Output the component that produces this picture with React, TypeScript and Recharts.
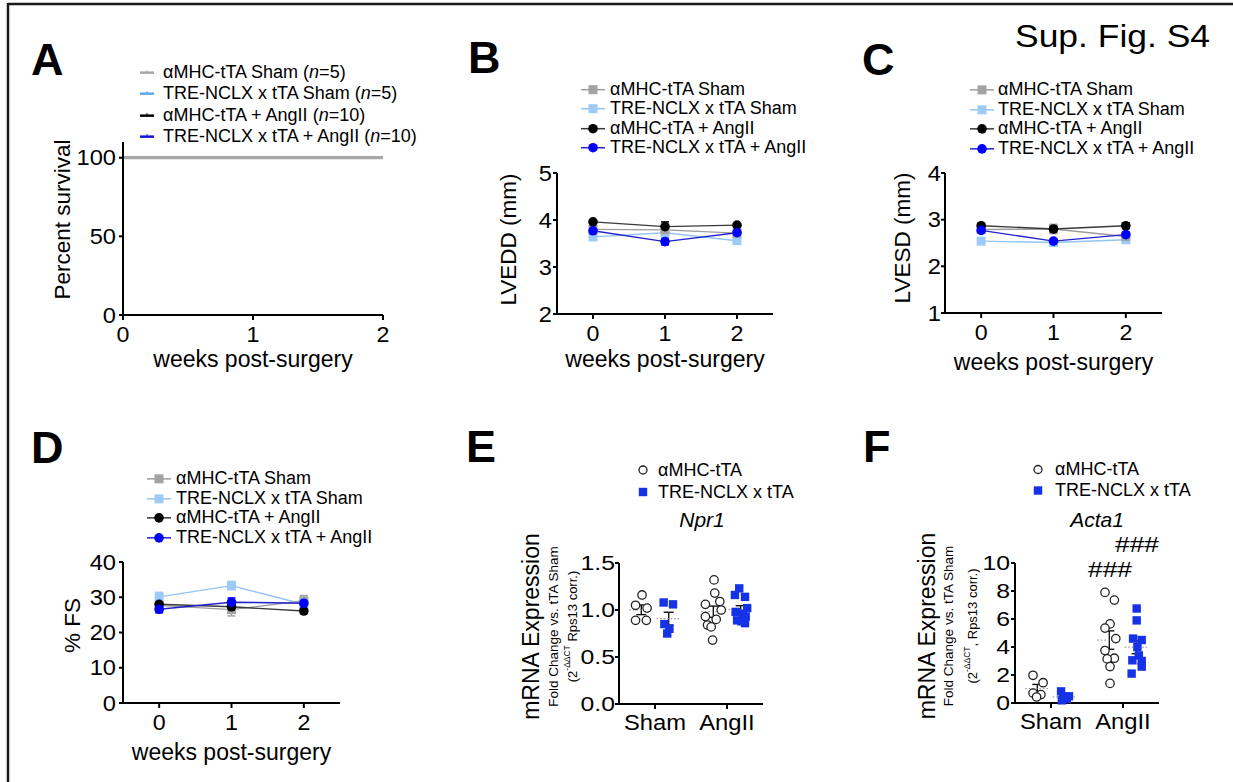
import React from "react";
import {
  LineChart,
  Line,
  ScatterChart,
  Scatter,
  XAxis,
  YAxis,
  ErrorBar,
  Legend,
  Label,
} from "recharts";

const FONT = "'Liberation Sans', Arial, Helvetica, sans-serif";

// panels A-D: four mouse groups followed over time
const weeks = [0, 1, 2];
const groupNames = ["αMHC-tTA Sham", "TRE-NCLX x tTA Sham", "αMHC-tTA + AngII", "TRE-NCLX x tTA + AngII"];
const groupN = [5, 5, 10, 10];

// A: percent survival
const survival = [
  [100, 100, 100],
  [100, 100, 100],
  [100, 100, 100],
  [100, 100, 100],
];

// B: LVEDD (mm), mean and SEM
const lveddMean = [
  [3.8, 3.79, 3.72],
  [3.64, 3.73, 3.56],
  [3.96, 3.86, 3.89],
  [3.77, 3.54, 3.73],
];
const lveddSem = [
  [0.07, 0.08, 0.06],
  [0.04, 0.03, 0.04],
  [0.03, 0.1, 0.03],
  [0.04, 0.07, 0.04],
];

// C: LVESD (mm)
const lvesdMean = [
  [2.79, 2.8, 2.64],
  [2.54, 2.51, 2.57],
  [2.87, 2.8, 2.87],
  [2.77, 2.54, 2.68],
];
const lvesdSem = [
  [0.05, 0.1, 0.06],
  [0.04, 0.04, 0.03],
  [0.03, 0.05, 0.06],
  [0.03, 0.04, 0.05],
];

// D: % FS
const fsMean = [
  [27.7, 26.5, 29.0],
  [30.1, 33.3, 28.0],
  [28.0, 27.3, 26.1],
  [26.6, 28.6, 28.3],
];
const fsSem = [
  [1.0, 1.8, 1.5],
  [1.3, 1.2, 1.0],
  [0.8, 0.8, 0.7],
  [1.0, 1.2, 0.9],
];

// E/F: qPCR, one row per condition (Sham, AngII)
const conditions = ["Sham", "AngII"];
const npr1Wt = [
  [1.16, 1.05, 1.02, 0.89, 0.89],
  [1.32, 1.18, 1.09, 1.06, 1.0, 0.93, 0.9, 0.84, 0.82, 0.68],
];
const npr1WtJitter = [
  [-0.18, -0.27, -0.11, -0.27, -0.12],
  [-0.18, -0.17, -0.1, -0.3, -0.08, -0.3, -0.15, -0.27, -0.22, -0.2],
];
const npr1Tg = [
  [1.08, 1.06, 0.85, 0.8, 0.75],
  [1.23, 1.16, 1.14, 1.02, 0.98, 0.96, 0.93, 0.89, 0.88, 0.86],
];
const npr1TgJitter = [
  [0.12, 0.25, 0.13, 0.2, 0.17],
  [0.17, 0.11, 0.25, 0.28, 0.12, 0.22, 0.26, 0.14, 0.2, 0.25],
];
const acta1Wt = [
  [1.98, 1.45, 0.71, 0.6, 0.43],
  [7.9, 7.35, 5.65, 5.35, 4.6, 3.75, 3.2, 3.15, 2.6, 1.4],
];
const acta1WtJitter = [
  [-0.25, -0.11, -0.25, -0.14, -0.2],
  [-0.25, -0.12, -0.18, -0.25, -0.1, -0.25, -0.12, -0.22, -0.18, -0.18],
];
const acta1Tg = [
  [0.83, 0.48, 0.38, 0.29, 0.19],
  [6.75, 5.9, 4.6, 4.5, 4.0, 3.4, 3.05, 3.0, 2.6, 2.1],
];
const acta1TgJitter = [
  [0.14, 0.25, 0.17, 0.22, 0.15],
  [0.19, 0.19, 0.14, 0.26, 0.2, 0.22, 0.13, 0.26, 0.26, 0.12],
];

const markerColors = ["#a3a3a3", "#9ecbf6", "#000000", "#0000ff"];
const lineColors = ["#9c9c9c", "#94c4f2", "#3a3a3a", "#2222cc"];
const survivalColors = ["#a8a8a8", "#5aa8ee", "#000000", "#1212d8"];
const TG_BLUE = "#1632e6";

type Box = { left: number; top: number; width: number; height: number };
type Plot = { left: number; top: number; right: number; bottom: number };
type TitleLine = { text: React.ReactNode; dx: number; size: number };
type KeyAt = { left: number; top: number; rowH: number; gap: number };

const layout = (box: Box, plot: Plot, xAxisH: number) => ({
  margin: {
    top: plot.top - box.top,
    left: 0,
    right: box.left + box.width - plot.right,
    bottom: box.top + box.height - plot.bottom - xAxisH,
  },
  yAxisW: plot.left - box.left,
});

// tick text, slightly widened like the original artwork
const wideTick = (fmt: (v: number) => string, size: number, sx: number, side: "x" | "y") => (t: any) => {
  const dy = side === "x" ? size * 0.71 : size * 0.355;
  return (
    <g transform={`translate(${t.x},${t.y}) scale(${sx},1)`}>
      <text x={0} y={0} dy={dy} textAnchor={side === "x" ? "middle" : "end"} fontSize={size} fontFamily={FONT} fill="#000">
        {fmt(t.payload.value)}
      </text>
    </g>
  );
};

const sideTitle = (lines: TitleLine[], shift: number) => (p: any) => {
  const vb = p.viewBox ?? { x: 0, y: 0, height: 0 };
  const cy = vb.y + vb.height / 2 + shift;
  return (
    <g>
      {lines.map((l, i) => {
        const x = vb.x + l.dx;
        return (
          <text key={i} x={x} y={cy} transform={`rotate(-90 ${x} ${cy})`} textAnchor="middle"
            dominantBaseline="central" fontFamily={FONT} fontSize={l.size} fill="#000">
            {l.text}
          </text>
        );
      })}
    </g>
  );
};

const axisLine = { stroke: "#000", strokeWidth: 2 };

type KeyRow = { label: React.ReactNode; symbol: (w: number, h: number) => React.ReactNode };

function Key({ rows, rowH, symW, gap }: { rows: KeyRow[]; rowH: number; symW: number; gap: number }) {
  return (
    <div style={{ fontFamily: FONT, fontSize: 18, color: "#000", whiteSpace: "nowrap" }}>
      {rows.map((r, i) => (
        <div key={i} style={{ display: "flex", alignItems: "center", height: rowH }}>
          <svg width={symW} height={rowH} style={{ flex: "none" }}>{r.symbol(symW, rowH)}</svg>
          <span style={{ marginLeft: gap, lineHeight: `${rowH}px` }}>{r.label}</span>
        </div>
      ))}
    </div>
  );
}

const markerSym = (g: number) => (w: number, h: number) => (
  <g>
    <line x1={0} x2={w} y1={h / 2} y2={h / 2} stroke={lineColors[g]} strokeWidth={1.5} />
    {g < 2 ? (
      <rect x={w / 2 - 4.5} y={h / 2 - 4.5} width={9} height={9} fill={markerColors[g]} />
    ) : (
      <circle cx={w / 2} cy={h / 2} r={4.8} fill={markerColors[g]} />
    )}
  </g>
);

const survivalSym = (g: number) => (w: number, h: number) => (
  <g>
    <line x1={w / 2 - 7} x2={w / 2 + 7} y1={h / 2} y2={h / 2} stroke={survivalColors[g]} strokeWidth={2.5} />
    <line x1={w / 2} x2={w / 2} y1={h / 2 - 2.5} y2={h / 2} stroke={survivalColors[g]} strokeWidth={1} />
  </g>
);

type TrendProps = {
  box: Box;
  plot: Plot;
  xTitleBase: number;
  means: number[][];
  sems?: number[][];
  xDomain: [number, number];
  yDomain: [number, number];
  yTicks: number[];
  yTickMargin: number;
  title: string;
  titleDx: number;
  titleShift: number;
  survivalStyle?: boolean;
  order: number[];
  keyAt: KeyAt;
};

function TrendPanel(p: TrendProps) {
  const xAxisH = p.xTitleBase - p.plot.bottom;
  const { margin, yAxisW } = layout(p.box, p.plot, xAxisH);
  const rows = weeks.map((w, i) => {
    const row: Record<string, number> = { week: w };
    p.means.forEach((m, g) => {
      row[`g${g}`] = m[i];
      if (p.sems) row[`e${g}`] = p.sems[g][i];
    });
    return row;
  });
  const keyRows: KeyRow[] = groupNames.map((name, g) => ({
    label: p.survivalStyle ? (
      <>
        {name} (<i>n</i>={groupN[g]})
      </>
    ) : (
      name
    ),
    symbol: p.survivalStyle ? survivalSym(g) : markerSym(g),
  }));

  return (
    <div style={{ position: "absolute", left: p.box.left, top: p.box.top }}>
      <LineChart width={p.box.width} height={p.box.height} data={rows} margin={margin}>
        <XAxis
          type="number"
          dataKey="week"
          domain={p.xDomain}
          ticks={weeks}
          interval={0}
          height={xAxisH}
          axisLine={axisLine}
          tickLine={axisLine}
          tickSize={5}
          tickMargin={7}
          tick={wideTick(String, 21.5, 1.08, "x")}
        >
          <Label value="weeks post-surgery" position="insideBottom" offset={0} fontSize={23} fill="#000" fontFamily={FONT} />
        </XAxis>
        <YAxis
          type="number"
          domain={p.yDomain}
          ticks={p.yTicks}
          interval={0}
          width={yAxisW}
          axisLine={axisLine}
          tickLine={axisLine}
          tickSize={4}
          tickMargin={p.yTickMargin}
          tick={wideTick(String, 21.5, 1.1, "y")}
        >
          <Label content={sideTitle([{ text: p.title, dx: p.titleDx, size: 22.5 }], p.titleShift)} />
        </YAxis>
        <Legend
          layout="vertical"
          align="center"
          verticalAlign="middle"
          wrapperStyle={{ left: p.keyAt.left, top: p.keyAt.top, width: 330 }}
          content={() => <Key rows={keyRows} rowH={p.keyAt.rowH} symW={24} gap={p.keyAt.gap} />}
        />
        {p.order.map((g) =>
          p.survivalStyle ? (
            <Line
              key={g}
              dataKey={`g${g}`}
              type="stepAfter"
              stroke={survivalColors[g]}
              strokeWidth={g === 0 ? 3 : 2}
              dot={false}
              isAnimationActive={false}
            />
          ) : (
            <Line
              key={g}
              dataKey={`g${g}`}
              type="linear"
              stroke={lineColors[g]}
              strokeWidth={1.4}
              isAnimationActive={false}
              dot={(d: any) =>
                g < 2 ? (
                  <rect key={`d${g}-${d.index}`} x={d.cx - 4.5} y={d.cy - 4.5} width={9} height={9} fill={markerColors[g]} />
                ) : (
                  <circle key={`d${g}-${d.index}`} cx={d.cx} cy={d.cy} r={4.8} fill={markerColors[g]} />
                )
              }
            >
              <ErrorBar dataKey={`e${g}`} width={4} stroke={markerColors[g]} strokeWidth={1.5} isAnimationActive={false} />
            </Line>
          )
        )}
      </LineChart>
    </div>
  );
}

const toPoints = (vals: number[][], jitter: number[][]) =>
  vals.flatMap((v, c) => v.map((y, k) => ({ x: c + jitter[c][k], y })));

const summarize = (vals: number[][], side: number) =>
  vals.map((v, c) => {
    const m = v.reduce((a, b) => a + b, 0) / v.length;
    const sd = Math.sqrt(v.reduce((a, b) => a + (b - m) * (b - m), 0) / (v.length - 1));
    return { x: c + side, y: m, sem: sd / Math.sqrt(v.length) };
  });

type DotProps = {
  box: Box;
  plot: Plot;
  wt: number[][];
  wtJitter: number[][];
  tg: number[][];
  tgJitter: number[][];
  yDomain: [number, number];
  yTicks: number[];
  yFmt: (v: number) => string;
  yTickMargin: number;
  titles: TitleLine[];
  titleShift: number;
  keyAt: KeyAt;
};

function DotPanel(p: DotProps) {
  const xAxisH = 40;
  const { margin, yAxisW } = layout(p.box, p.plot, xAxisH);
  const wtPts = toPoints(p.wt, p.wtJitter);
  const tgPts = toPoints(p.tg, p.tgJitter);
  const summary = [...summarize(p.wt, -0.19), ...summarize(p.tg, 0.19)];
  const keyRows: KeyRow[] = [
    {
      label: "αMHC-tTA",
      symbol: (w, h) => <circle cx={w / 2} cy={h / 2} r={4} fill="#fff" stroke="#222" strokeWidth={1.3} />,
    },
    {
      label: "TRE-NCLX x tTA",
      symbol: (w, h) => <rect x={w / 2 - 4.2} y={h / 2 - 4.2} width={8.4} height={8.4} fill={TG_BLUE} />,
    },
  ];

  return (
    <div style={{ position: "absolute", left: p.box.left, top: p.box.top }}>
      <ScatterChart width={p.box.width} height={p.box.height} margin={margin}>
        <XAxis
          type="number"
          dataKey="x"
          domain={[-0.5, 1.5]}
          ticks={[0, 1]}
          interval={0}
          height={xAxisH}
          axisLine={axisLine}
          tickLine={axisLine}
          tickSize={5}
          tickMargin={5}
          tick={wideTick((v) => conditions[v] ?? "", 22, 1.08, "x")}
        />
        <YAxis
          type="number"
          dataKey="y"
          domain={p.yDomain}
          ticks={p.yTicks}
          interval={0}
          width={yAxisW}
          axisLine={axisLine}
          tickLine={axisLine}
          tickSize={4}
          tickMargin={p.yTickMargin}
          tick={wideTick(p.yFmt, 21, 1.18, "y")}
        >
          <Label content={sideTitle(p.titles, p.titleShift)} />
        </YAxis>
        <Legend
          layout="vertical"
          align="center"
          verticalAlign="middle"
          wrapperStyle={{ left: p.keyAt.left, top: p.keyAt.top, width: 200 }}
          content={() => <Key rows={keyRows} rowH={p.keyAt.rowH} symW={16} gap={p.keyAt.gap} />}
        />
        <Scatter
          data={summary}
          isAnimationActive={false}
          shape={(s: any) => (
            <line x1={s.cx - 12} x2={s.cx + 12} y1={s.cy} y2={s.cy} stroke="#9a9a9a" strokeWidth={1.2} strokeDasharray="1.5 2" />
          )}
        />
        <Scatter
          data={wtPts}
          isAnimationActive={false}
          shape={(s: any) => <circle cx={s.cx} cy={s.cy} r={4.2} fill="#fff" stroke="#222" strokeWidth={1.3} />}
        />
        <Scatter
          data={tgPts}
          isAnimationActive={false}
          shape={(s: any) => <rect x={s.cx - 4.2} y={s.cy - 4.2} width={8.4} height={8.4} fill={TG_BLUE} />}
        />
        <Scatter data={summary} isAnimationActive={false} shape={() => <g />}>
          <ErrorBar dataKey="sem" direction="y" width={5} stroke="#111" strokeWidth={1.4} isAnimationActive={false} />
        </Scatter>
      </ScatterChart>
    </div>
  );
}

const qpcrTitles = (geneCorr: React.ReactNode, dx: [number, number, number]): TitleLine[] => [
  { text: "mRNA Expression", dx: dx[0], size: 23 },
  { text: "Fold Change vs. tTA Sham", dx: dx[1], size: 13.5 },
  { text: geneCorr, dx: dx[2], size: 13 },
];

export default function App() {
  return (
    <div style={{ position: "absolute", left: 0, top: 0, width: 1233, height: 782, background: "#fff", overflow: "hidden" }}>
      <TrendPanel
        box={{ left: 10, top: 60, width: 400, height: 330 }}
        plot={{ left: 123, top: 142, right: 383, bottom: 315 }}
        xTitleBase={367}
        means={survival}
        xDomain={[0, 2]}
        yDomain={[0, 110]}
        yTicks={[0, 50, 100]}
        yTickMargin={3}
        title="Percent survival"
        titleDx={52}
        titleShift={-9}
        survivalStyle
        order={[3, 2, 1, 0]}
        keyAt={{ left: 125, top: 2, rowH: 21.3, gap: 4 }}
      />
      <TrendPanel
        box={{ left: 420, top: 60, width: 400, height: 330 }}
        plot={{ left: 557, top: 173, right: 773, bottom: 314 }}
        xTitleBase={367}
        means={lveddMean}
        sems={lveddSem}
        xDomain={[-0.5, 2.5]}
        yDomain={[2, 5]}
        yTicks={[2, 3, 4, 5]}
        yTickMargin={1}
        title="LVEDD (mm)"
        titleDx={88}
        titleShift={-4}
        order={[1, 0, 2, 3]}
        keyAt={{ left: 161, top: 20, rowH: 19.4, gap: 5 }}
      />
      <TrendPanel
        box={{ left: 820, top: 60, width: 413, height: 330 }}
        plot={{ left: 945, top: 173, right: 1162, bottom: 313 }}
        xTitleBase={370}
        means={lvesdMean}
        sems={lvesdSem}
        xDomain={[-0.5, 2.5]}
        yDomain={[1, 4]}
        yTicks={[1, 2, 3, 4]}
        yTickMargin={0}
        title="LVESD (mm)"
        titleDx={82}
        titleShift={-5}
        order={[1, 0, 2, 3]}
        keyAt={{ left: 150, top: 20, rowH: 19.7, gap: 4 }}
      />
      <TrendPanel
        box={{ left: 10, top: 450, width: 400, height: 332 }}
        plot={{ left: 123, top: 562, right: 340, bottom: 703 }}
        xTitleBase={760}
        means={fsMean}
        sems={fsSem}
        xDomain={[-0.5, 2.5]}
        yDomain={[0, 40]}
        yTicks={[0, 10, 20, 30, 40]}
        yTickMargin={3}
        title="% FS"
        titleDx={62}
        titleShift={-7}
        order={[1, 0, 2, 3]}
        keyAt={{ left: 137, top: 19, rowH: 19.7, gap: 5 }}
      />
      <DotPanel
        box={{ left: 430, top: 450, width: 380, height: 332 }}
        plot={{ left: 619, top: 563, right: 763, bottom: 704 }}
        wt={npr1Wt}
        wtJitter={npr1WtJitter}
        tg={npr1Tg}
        tgJitter={npr1TgJitter}
        yDomain={[0, 1.5]}
        yTicks={[0, 0.5, 1, 1.5]}
        yFmt={(v) => v.toFixed(1)}
        yTickMargin={0}
        titles={qpcrTitles(
          <>
            (2<tspan dy={-5} fontSize={8.5}>-ΔΔCT</tspan>
            <tspan dy={5}> Rps13 corr.)</tspan>
          </>,
          [101, 123, 142]
        )}
        titleShift={-7}
        keyAt={{ left: 205, top: 9, rowH: 22, gap: 7 }}
      />
      <DotPanel
        box={{ left: 820, top: 450, width: 413, height: 332 }}
        plot={{ left: 1015, top: 563, right: 1159, bottom: 703 }}
        wt={acta1Wt}
        wtJitter={acta1WtJitter}
        tg={acta1Tg}
        tgJitter={acta1TgJitter}
        yDomain={[0, 10]}
        yTicks={[0, 2, 4, 6, 8, 10]}
        yFmt={(v) => String(v)}
        yTickMargin={1}
        titles={qpcrTitles(
          <>
            (2<tspan dy={-5} fontSize={8.5}>-ΔΔCT</tspan>
            <tspan dy={5}>, Rps13 corr.)</tspan>
          </>,
          [107, 128, 152]
        )}
        titleShift={-7}
        keyAt={{ left: 210, top: 9, rowH: 21, gap: 9 }}
      />
      <svg width={1233} height={782} style={{ position: "absolute", left: 0, top: 0, pointerEvents: "none" }}>
        <line x1={8} x2={1233} y1={4} y2={4} stroke="#1a1a1a" strokeWidth={2.5} />
        <line x1={8} x2={8} y1={3} y2={782} stroke="#1a1a1a" strokeWidth={2.5} />
        <g fontFamily={FONT} fontWeight="bold" fontSize={45} fill="#000">
          <text x={31} y={75}>A</text>
          <text x={468} y={73}>B</text>
          <text x={862} y={75}>C</text>
          <text x={31} y={463}>D</text>
          <text x={466} y={462}>E</text>
          <text x={863} y={462}>F</text>
        </g>
        <text x={1015} y={47} fontFamily={FONT} fontSize={31} textLength={195} lengthAdjust="spacingAndGlyphs" fill="#000">
          Sup. Fig. S4
        </text>
        <text x={702} y={527} fontFamily={FONT} fontSize={21} fontStyle="italic" textAnchor="middle" fill="#000">
          Npr1
        </text>
        <text x={1097} y={527} fontFamily={FONT} fontSize={21} fontStyle="italic" textAnchor="middle" fill="#000">
          Acta1
        </text>
        <text x={1088} y={577} fontFamily={FONT} fontSize={22} textLength={44} lengthAdjust="spacingAndGlyphs" fill="#000">
          ###
        </text>
        <text x={1115} y={552} fontFamily={FONT} fontSize={22} textLength={44} lengthAdjust="spacingAndGlyphs" fill="#000">
          ###
        </text>
      </svg>
    </div>
  );
}
